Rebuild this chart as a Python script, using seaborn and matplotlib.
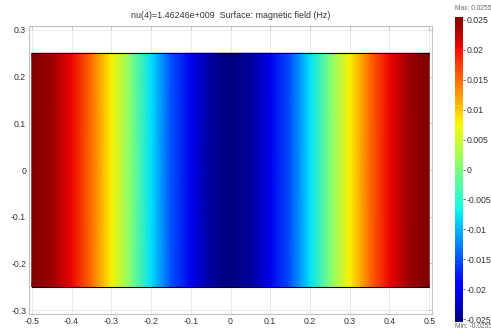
import numpy as np
import matplotlib
matplotlib.use("Agg")
import matplotlib.pyplot as plt
import seaborn as sns

# Field profile (Hz) read along x across the rectangle (constant in y)
x_pos = [-0.5, -0.45, -0.4, -0.35, -0.3, -0.25, -0.2, -0.15, -0.1, -0.05, 0.0,
         0.05, 0.1, 0.15, 0.2, 0.25, 0.3, 0.35, 0.4, 0.45, 0.5]
hz_vals = [0.0255, 0.0243, 0.0206, 0.0150, 0.0079, 0.0, -0.0079, -0.0150, -0.0206, -0.0243, -0.0255,
           -0.0243, -0.0206, -0.0150, -0.0079, 0.0, 0.0079, 0.0150, 0.0206, 0.0243, 0.0255]
y_edges = [-0.25, 0.25]
vmin, vmax = -0.0255, 0.0255
x_ticks = [-0.5, -0.4, -0.3, -0.2, -0.1, 0, 0.1, 0.2, 0.3, 0.4, 0.5]
x_labels = ["-0.5", "-0.4", "-0.3", "-0.2", "-0.1", "0", "0.1", "0.2", "0.3", "0.4", "0.5"]
y_ticks = [-0.3, -0.2, -0.1, 0, 0.1, 0.2, 0.3]
y_labels = ["-0.3", "-0.2", "-0.1", "0", "0.1", "0.2", "0.3"]
cb_ticks = [0.025, 0.02, 0.015, 0.01, 0.005, 0, -0.005, -0.01, -0.015, -0.02, -0.025]
cb_labels = ["0.025", "0.02", "0.015", "0.01", "0.005", "0", "-0.005", "-0.01", "-0.015", "-0.02", "-0.025"]
title = "nu(4)=1.46246e+009  Surface: magnetic field (Hz)"

sns.set_style("white")
plt.rcParams['font.family'] = ['Liberation Sans', 'DejaVu Sans']

fig = plt.figure(figsize=(4.91, 3.31), dpi=100)
W, H = 491, 331
ax = fig.add_axes([29 / W, 1 - 314 / H, (432 - 29) / W, (314 - 26) / H])
cax = fig.add_axes([455 / W, 1 - 322 / H, 8 / W, (322 - 17) / H])

X, Y = np.meshgrid(np.array(x_pos), np.array(y_edges))
Z = np.vstack([hz_vals, hz_vals])
m = ax.pcolormesh(X, Y, Z, cmap="jet", vmin=vmin, vmax=vmax, shading="gouraud", zorder=2)
ax.plot([x_pos[0], x_pos[-1]], [y_edges[1], y_edges[1]], color="black", lw=0.8, zorder=3)
ax.plot([x_pos[0], x_pos[-1]], [y_edges[0], y_edges[0]], color="black", lw=0.8, zorder=3)

ax.set_xlim(-0.507, 0.507)
ax.set_ylim(-0.3085, 0.3085)
ax.set_xticks(x_ticks)
ax.set_xticklabels(x_labels)
ax.set_yticks(y_ticks)
ax.set_yticklabels(y_labels)
ax.grid(True, color="#e6e6e6", lw=0.6, zorder=0)
ax.set_axisbelow(True)
ax.tick_params(direction="in", length=3, width=0.5, colors="#bbbbbb", labelcolor="#333333",
               labelsize=6.3, top=True, right=True, pad=2)
for s in ax.spines.values():
    s.set_color("#c0c0c0")
    s.set_linewidth(0.8)
ax.set_title(title, fontsize=6.4, color="#333333", pad=6)

cb = fig.colorbar(m, cax=cax)
cb.set_ticks(cb_ticks)
cb.set_ticklabels(cb_labels)
cb.outline.set_visible(False)
cax.tick_params(labelsize=6.3, labelcolor="#333333", length=1.5, width=0.5, colors="#333333", pad=1)
fig.text(455 / W, 1 - 8 / H, "Max: 0.0255", fontsize=4.8, color="#666666", va="center")
fig.text(455 / W, 1 - 327 / H, "Min: -0.0255", fontsize=4.8, color="#666666", va="center")

fig.savefig("out.png", dpi=100)
